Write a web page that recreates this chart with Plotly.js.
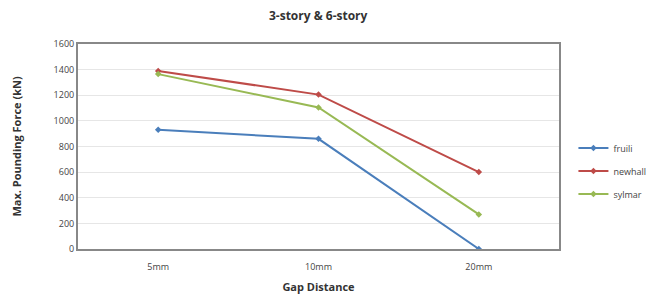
<!DOCTYPE html>
<html><head><meta charset="utf-8">
<script src="https://cdn.plot.ly/plotly-3.0.1.min.js"></script>
<style>html,body{margin:0;padding:0;background:#fff}#chart{width:648px;height:307px}</style>
</head><body><div id="chart"></div>
<script>
const categories = ["5mm", "10mm", "20mm"];
const fruili = [930, 860, 0];
const newhall = [1390, 1205, 600];
const sylmar = [1365, 1105, 270];
const seriesNames = ["fruili", "newhall", "sylmar"];
const colors = ["#4a7ebb", "#be4b48", "#98b954"];
const yTicks = [0, 200, 400, 600, 800, 1000, 1200, 1400, 1600];

const values = [fruili, newhall, sylmar];
const traces = values.map((v, i) => ({
  x: categories, y: v, name: seriesNames[i], legendgroup: "g" + i, type: "scatter", mode: "lines+markers",
  line: {color: colors[i], width: 2}, marker: {color: colors[i], size: 5, symbol: "diamond"}
}));

const font = {family: "Open Sans, Liberation Sans, sans-serif", color: "#444"};
Plotly.newPlot("chart", traces, {
  width: 648, height: 307,
  margin: {l: 78, r: 89, t: 44, b: 58, autoexpand: false},
  paper_bgcolor: "#fff", plot_bgcolor: "#fff",
  font: Object.assign({size: 9}, font),
  title: {text: "<b>3-story & 6-story</b>", x: 0.491, xanchor: "center", y: 0.95, yanchor: "middle",
          font: {size: 12, color: "#333", family: font.family}},
  xaxis: {type: "category", range: [-0.5, 2.5], showline: true, linecolor: "#888", linewidth: 2, mirror: true,
          showgrid: false, ticks: "", tickfont: {size: 9, color: "#444"}, ticklabelstandoff: 8,
          title: {text: "<b>Gap Distance</b>", font: {size: 11, color: "#333"}, standoff: 12}},
  yaxis: {range: [0, 1600], tickvals: yTicks, showline: true, linecolor: "#888", linewidth: 2, mirror: true,
          gridcolor: "#e6e6e6", gridwidth: 1, zeroline: false, ticks: "", tickfont: {size: 9, color: "#444"},
          title: {text: "<b>Max. Pounding Force (kN)</b>", font: {size: 11, color: "#333"}, standoff: 30}},
  legend: {x: 1.03, xanchor: "left", y: 0.38, yanchor: "middle", font: {size: 9, color: "#444"},
           traceorder: "grouped", tracegroupgap: 4, itemwidth: 30, bgcolor: "rgba(0,0,0,0)"},
  showlegend: true
}, {staticPlot: true});
</script></body></html>
